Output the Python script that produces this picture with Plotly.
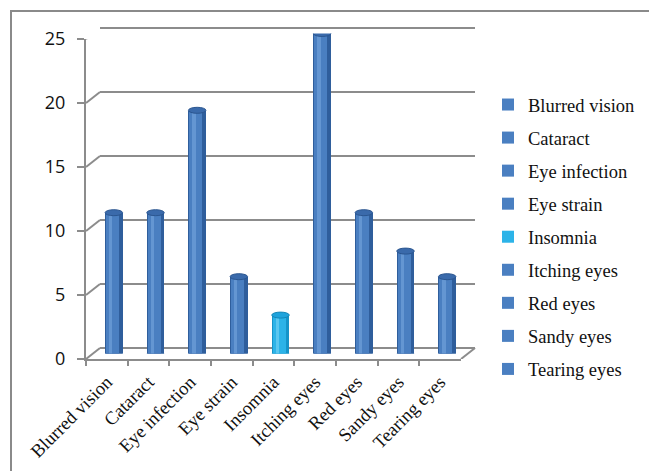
import plotly.graph_objects as go

W, H = 649, 471

categories = ["Blurred vision", "Cataract", "Eye infection", "Eye strain", "Insomnia",
              "Itching eyes", "Red eyes", "Sandy eyes", "Tearing eyes"]
values = [11, 11, 19, 6, 3, 25, 11, 8, 6]
highlight_category = "Insomnia"
y_ticks = [0, 5, 10, 15, 20, 25]

BLUE = dict(base="#2f5e9c", mid="#4a7fc1", hi="#6f9fd8", top="#3a6aab", topline="#2b5690")
CYAN = dict(base="#1594c9", mid="#2cb3e8", hi="#6fd0f3", top="#1fa3dc", topline="#1386b8")
GRID = "#8c8c8c"

def px_x(p):
    return p / W

def px_y(p):
    return 1 - p / H

# geometry (pixels)
FX0, FX1 = 86, 461          # front x extent
FY0, FY1 = 359, 39          # front y for 0 and 25
DX, DY = 14, -11            # depth offset to back wall
PAD = 0.3                   # range padding on the back wall so edge gridlines are drawn fully

fig = go.Figure()

# invisible traces that define the front axes and the back wall
fig.add_trace(go.Scatter(x=categories, y=values, mode="markers", marker=dict(opacity=0),
                         showlegend=False, hoverinfo="skip", xaxis="x", yaxis="y"))
fig.add_trace(go.Scatter(x=list(range(len(categories))), y=values, mode="markers", marker=dict(opacity=0),
                         showlegend=False, hoverinfo="skip", xaxis="x2", yaxis="y2"))

def pal(c):
    return CYAN if c == highlight_category else BLUE

# cylinder body layers (on mid-depth axes)
for c, v in zip(categories, values):
    fig.add_trace(go.Bar(x=[c], y=[v], width=0.42, offset=-0.21, marker=dict(color=pal(c)["base"], line_width=0),
                         showlegend=False, xaxis="x3", yaxis="y3", hoverinfo="skip"))
for c, v in zip(categories, values):
    fig.add_trace(go.Bar(x=[c], y=[v], width=0.31, offset=-0.19, name=c, legendgroup=c,
                         marker=dict(color=pal(c)["mid"], line_width=0),
                         showlegend=True, xaxis="x3", yaxis="y3"))
for c, v in zip(categories, values):
    fig.add_trace(go.Bar(x=[c], y=[v], width=0.08, offset=-0.12, marker=dict(color=pal(c)["hi"], line_width=0),
                         showlegend=False, xaxis="x3", yaxis="y3", hoverinfo="skip", opacity=0.7))

shapes = []
# top and bottom ellipses of cylinders
px_per_unit = (FY0 - FY1) / 25.0
eh = 3.0 / px_per_unit
for i, (c, v) in enumerate(zip(categories, values)):
    p = pal(c)
    shapes.append(dict(type="circle", xref="x3", yref="y3", x0=i - 0.21, x1=i + 0.21,
                       y0=-eh, y1=eh, fillcolor=p["base"], line=dict(width=0), layer="between"))
    shapes.append(dict(type="circle", xref="x3", yref="y3", x0=i - 0.21, x1=i + 0.21,
                       y0=v - eh, y1=v + eh, fillcolor=p["top"], line=dict(width=1, color=p["topline"]),
                       layer="above"))

# diagonal connectors from front axis to back wall
dxf = DX / (FX1 - FX0)
dyv = -DY / px_per_unit
for t in y_ticks:
    shapes.append(dict(type="line", xref="x domain", yref="y", x0=0, x1=dxf, y0=t, y1=t + dyv,
                       line=dict(color=GRID, width=2), layer="below"))
shapes.append(dict(type="line", xref="x domain", yref="y", x0=1, x1=1 + dxf, y0=0, y1=dyv,
                   line=dict(color=GRID, width=2), layer="below"))
# outer chart border
shapes.append(dict(type="rect", xref="paper", yref="paper", x0=px_x(11), x1=1.05, y0=-0.05, y1=px_y(11),
                   line=dict(color="#8a8a8a", width=2), fillcolor="rgba(0,0,0,0)", layer="below"))

pad_px = PAD * px_per_unit

fig.update_layout(
    template="none",
    width=W, height=H, margin=dict(l=0, r=0, t=0, b=0, autoexpand=False),
    paper_bgcolor="white", plot_bgcolor="rgba(0,0,0,0)",
    barmode="overlay", bargap=0,
    shapes=shapes,
    xaxis=dict(domain=[px_x(FX0), px_x(FX1)], type="category", categoryorder="array", categoryarray=categories,
               range=[-0.5, len(categories) - 0.5], showline=True, linecolor=GRID, linewidth=2,
               ticks="outside", tickson="boundaries", ticklen=5, tickwidth=2, tickcolor=GRID,
               tickangle=-45, tickfont=dict(family="Liberation Serif", size=18.5, color="#111"),
               ticklabelstandoff=3,
               showgrid=False, zeroline=False, anchor="y", automargin=False),
    yaxis=dict(domain=[px_y(FY0), px_y(FY1)], range=[0, 25], tickvals=y_ticks, showline=True, linecolor=GRID,
               linewidth=2, ticks="outside", ticklen=7, tickwidth=2, tickcolor=GRID,
               tickfont=dict(family="Open Sans", size=18, color="#111"), ticklabelstandoff=8,
               showgrid=False, zeroline=False,
               anchor="x", automargin=False),
    xaxis2=dict(domain=[px_x(FX0 + DX), px_x(FX1 + DX)], range=[-0.5, len(categories) - 0.5],
                showgrid=False, zeroline=False, showline=False, showticklabels=False, ticks="",
                anchor="y2", automargin=False),
    yaxis2=dict(domain=[px_y(FY0 + DY + pad_px), px_y(FY1 + DY - pad_px)], range=[-PAD, 25 + PAD],
                tickvals=y_ticks, showgrid=True,
                gridcolor=GRID, gridwidth=2, zeroline=True, zerolinecolor=GRID, zerolinewidth=2,
                showticklabels=False, ticks="", showline=False, anchor="x2", automargin=False),
    xaxis3=dict(domain=[px_x(FX0 + DX / 2), px_x(FX1 + DX / 2)], type="category", categoryorder="array",
                categoryarray=categories, range=[-0.5, len(categories) - 0.5], visible=False, anchor="y3",
                automargin=False),
    yaxis3=dict(domain=[px_y(FY0 + DY / 2), px_y(FY1 + DY / 2)], range=[0, 25], visible=False, anchor="x3",
                automargin=False),
    legend=dict(x=px_x(488), y=px_y(86), xanchor="left", yanchor="top",
                font=dict(family="Liberation Serif", size=18.5, color="#111"),
                tracegroupgap=6, bgcolor="rgba(0,0,0,0)"),
    showlegend=True,
)

fig.write_html("out.html")
